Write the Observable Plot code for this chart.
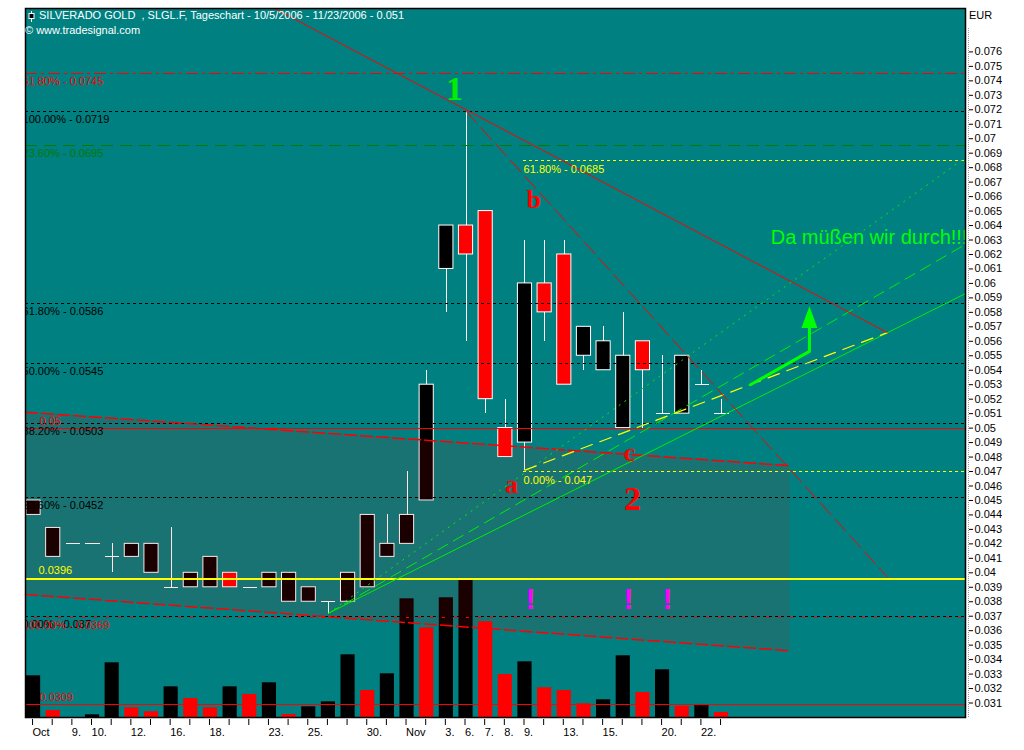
<!DOCTYPE html>
<html><head><meta charset="utf-8">
<script src="https://cdn.jsdelivr.net/npm/d3@7"></script>
<script src="https://cdn.jsdelivr.net/npm/@observablehq/plot@0.6"></script>
<style>
body{margin:0;background:#fff;font-family:"Liberation Sans",Arial,sans-serif;}
#wrap{position:relative;width:1024px;height:750px;overflow:hidden;}
#wrap svg.plt{position:absolute;left:0;top:0;}
.hdr{position:absolute;font-size:11px;white-space:pre;line-height:13px;font-family:"Liberation Sans",Arial,sans-serif;}
</style></head><body><div id="wrap"></div>
<script>
// ---- data ----
const dates = ["2006-10-05","2006-10-06","2006-10-09","2006-10-10","2006-10-11","2006-10-12","2006-10-13","2006-10-16","2006-10-17","2006-10-18","2006-10-19","2006-10-20","2006-10-23","2006-10-24","2006-10-25","2006-10-26","2006-10-27","2006-10-30","2006-10-31","2006-11-01","2006-11-02","2006-11-03","2006-11-06","2006-11-07","2006-11-08","2006-11-09","2006-11-10","2006-11-13","2006-11-14","2006-11-15","2006-11-16","2006-11-17","2006-11-20","2006-11-21","2006-11-22","2006-11-23"];
const dayLabels = ["Oct","","9.","10.","","12.","","16.","","18.","","","23.","","25.","","","30.","","Nov","","3.","6.","7.","8.","9.","","13.","","15.","","","20.","","22.",""];
const openP  = [0.0440,0.0411,0.0420,0.0420,0.0411,0.0411,0.0400,0.0390,0.0390,0.0390,0.0400,0.0390,0.0390,0.0380,0.0380,0.0380,0.0380,0.0390,0.0411,0.0420,0.0450,0.0610,0.0640,0.0650,0.0500,0.0490,0.0600,0.0620,0.0550,0.0540,0.0500,0.0560,0.0510,0.0510,0.0530,0.0510];
const highP  = [0.0450,0.0431,0.0420,0.0420,0.0420,0.0420,0.0420,0.0431,0.0400,0.0411,0.0400,0.0390,0.0400,0.0400,0.0390,0.0380,0.0400,0.0440,0.0440,0.0470,0.0540,0.0640,0.0719,0.0650,0.0520,0.0630,0.0630,0.0630,0.0570,0.0570,0.0580,0.0560,0.0550,0.0550,0.0540,0.0520];
const lowP   = [0.0440,0.0411,0.0420,0.0420,0.0400,0.0411,0.0400,0.0390,0.0390,0.0390,0.0390,0.0390,0.0390,0.0380,0.0380,0.0371,0.0380,0.0390,0.0411,0.0420,0.0450,0.0580,0.0560,0.0510,0.0480,0.0471,0.0560,0.0530,0.0540,0.0540,0.0500,0.0500,0.0510,0.0510,0.0530,0.0510];
const closeP = [0.0450,0.0431,0.0420,0.0420,0.0411,0.0420,0.0420,0.0390,0.0400,0.0411,0.0390,0.0390,0.0400,0.0400,0.0390,0.0380,0.0400,0.0440,0.0420,0.0440,0.0530,0.0640,0.0620,0.0520,0.0480,0.0600,0.0580,0.0530,0.0570,0.0560,0.0550,0.0540,0.0510,0.0550,0.0530,0.0510];
const volume = [117600,19700,0,7600,154300,27400,16100,86600,53600,27400,86600,64900,97900,8500,30200,44300,176900,76200,123300,334800,253000,337700,392100,270000,121300,157100,83800,76200,38600,49900,174100,70500,134600,31000,36700,14100];
const volUp  = [1,0,1,1,1,0,0,1,0,0,1,0,1,0,1,1,1,0,1,1,0,1,1,0,0,1,0,0,0,1,1,0,1,0,1,0];
const priceTicks = [0.031,0.032,0.033,0.034,0.035,0.036,0.037,0.038,0.039,0.040,0.041,0.042,0.043,0.044,0.045,0.046,0.047,0.048,0.049,0.050,0.051,0.052,0.053,0.054,0.055,0.056,0.057,0.058,0.059,0.060,0.061,0.062,0.063,0.064,0.065,0.066,0.067,0.068,0.069,0.070,0.071,0.072,0.073,0.074,0.075,0.076];
const fibLevels = [0.0719,0.0586,0.0545,0.0503,0.0452,0.0370];
const fibLabels = ["100.00% - 0.0719","61.80% - 0.0586","50.00% - 0.0545","38.20% - 0.0503","23.60% - 0.0452","0.00% - 0.037"];
const channelX = [-0.41, 38.5];
const channelTop = [0.0511, 0.0474];
const channelBottom = [0.0385, 0.0346];
const fanStart = {x: 15, y: 0.0372};
const fanEnds = [0.0687, 0.0627, 0.0593];
const trendTop = [{x:12.26,y:0.0790},{x:43.44,y:0.0566}];
const trendSteep = [{x:22,y:0.0719},{x:43.44,y:0.0397}];
const trendYellow = [{x:25,y:0.0471},{x:43.44,y:0.0566}];
const arrowPath = [{x:36.47,y:0.0530},{x:39.47,y:0.0553},{x:39.47,y:0.0570}];
const arrowHead = [{x:39.47,y:0.05767}];
const letterNotes = [{t:"b",x:25.44,y:0.06576},{t:"a",x:24.32,y:0.04606},{t:"c",x:30.32,y:0.04827}];
const bangNotes = [{x:25.28,y:0.03817},{x:30.27,y:0.03817},{x:32.25,y:0.03817}];

// ---- layout constants ----
const W = 1024, H = 750;
const M = {marginTop: 8, marginBottom: 33, marginLeft: 25, marginRight: 59};
const xDomain = [-0.41, 47.41];
const yDomain = [0.0300, 0.0790];
const hw = 0.36;

const candles = dates.map((d, i) => ({i, d, o: openP[i], h: highP[i], l: lowP[i], c: closeP[i]}));
const vols = volume.map((v, i) => ({i, v, up: volUp[i]}));
const bodies = candles.filter(d => d.o !== d.c);
const dojis = candles.filter(d => d.o === d.c);
const channel = channelX.map((x, k) => ({x, top: channelTop[k], bot: channelBottom[k]}));

const tallTriangle = {draw(ctx, size) { const r = Math.sqrt(size / Math.PI); ctx.moveTo(0, -1.35*r); ctx.lineTo(r, 1.35*r); ctx.lineTo(-r, 1.35*r); ctx.closePath(); }};

const volPlot = Plot.plot({
  width: W, height: H, ...M,
  x: {domain: xDomain, axis: null},
  y: {domain: [0, 2000000], axis: null},
  style: {background: "transparent"},
  marks: [
    Plot.frame({fill: "#008080", stroke: null}),
    Plot.rect(vols, {x1: d => d.i - hw, x2: d => d.i + hw, y1: 0, y2: "v", fill: d => d.up ? "#000000" : "#ff0000"})
  ]
});

const green = "#00ee00";
const crisp = {shapeRendering: "crispEdges"};
const pricePlot = Plot.plot({
  width: W, height: H, ...M,
  x: {domain: xDomain},
  y: {domain: yDomain},
  style: {background: "transparent", fontFamily: "'Liberation Sans', Arial, sans-serif", fontSize: "11px", color: "#000"},
  marks: [
    Plot.ruleX(candles, {x: "i", y1: "l", y2: "h", stroke: "#fff", ...crisp}),
    Plot.rect(bodies, {x1: d => d.i - hw, x2: d => d.i + hw, y1: "o", y2: "c", fill: d => d.c < d.o ? "#ff0000" : "#000000", stroke: "#fff", strokeWidth: 1}),
    Plot.link(dojis, {x1: d => d.i - hw, x2: d => d.i + hw, y1: "o", y2: "o", stroke: "#fff", ...crisp}),
    Plot.areaY(channel, {x: "x", y1: "bot", y2: "top", fill: "#ff0000", fillOpacity: 0.1, curve: "linear"}),
    Plot.ruleY(fibLevels, {stroke: "#000", strokeDasharray: "3,3", ...crisp}),
    Plot.ruleY([0.0369], {stroke: "#ff0000", strokeDasharray: "3,9", strokeDashoffset: 3, ...crisp}),
    Plot.ruleY([0.0745], {stroke: "#ff0000", strokeDasharray: "12,4,3,4", ...crisp}),
    Plot.ruleY([0.0695], {stroke: "#007a00", strokeDasharray: "12,7", ...crisp}),
    Plot.ruleY([0.0685, 0.047], {x1: 24.93, x2: xDomain[1], stroke: "#ffff00", strokeDasharray: "3,3", ...crisp}),
    Plot.ruleY([0.05, 0.0309], {stroke: "#ff0000", ...crisp}),
    Plot.ruleY([0.0396], {stroke: "#ffff00", strokeWidth: 2, ...crisp}),
    Plot.line(channel, {x: "x", y: "top", stroke: "#ff0000", strokeWidth: 1.5, strokeDasharray: "12,4"}),
    Plot.line(channel, {x: "x", y: "bot", stroke: "#ff0000", strokeWidth: 1.5, strokeDasharray: "12,4"}),
    Plot.link([fanEnds[0]], {x1: fanStart.x, y1: fanStart.y, x2: xDomain[1], y2: d => d, stroke: green, strokeDasharray: "2,5"}),
    Plot.link([fanEnds[1]], {x1: fanStart.x, y1: fanStart.y, x2: xDomain[1], y2: d => d, stroke: green, strokeDasharray: "12,6"}),
    Plot.link([fanEnds[2]], {x1: fanStart.x, y1: fanStart.y, x2: xDomain[1], y2: d => d, stroke: green}),
    Plot.line(trendYellow, {x: "x", y: "y", stroke: "#ffff00", strokeWidth: 1.2, strokeDasharray: "12,8"}),
    Plot.line(trendTop, {x: "x", y: "y", stroke: "#ff0000", strokeWidth: 1, clip: true}),
    Plot.line(trendSteep, {x: "x", y: "y", stroke: "#ff0000", strokeWidth: 1, strokeDasharray: "16,6"}),
    Plot.line(arrowPath, {x: "x", y: "y", stroke: "#00ff00", strokeWidth: 3}),
    Plot.dot(arrowHead, {x: "x", y: "y", r: 8, symbol: tallTriangle, fill: "#00ff00", stroke: null}),
    // labels
    Plot.text(fibLevels, {x: -0.56, y: d => d, text: (d, k) => fibLabels[k], textAnchor: "start", dy: 8, fill: "#000", clip: true}),
    Plot.text([0.0369], {x: -0.56, y: d => d, text: ["100.00% - 0.0369"], textAnchor: "start", dy: 8, fill: "#ff0000", clip: true}),
    Plot.text([0.0745], {x: -0.56, y: d => d, text: ["61.80% - 0.0745"], textAnchor: "start", dy: 8, fill: "#ff0000", clip: true}),
    Plot.text([0.0695], {x: -0.56, y: d => d, text: ["23.60% - 0.0695"], textAnchor: "start", dy: 8, fill: "#007a00", clip: true}),
    Plot.text([0.0685, 0.047], {x: 24.93, y: d => d, text: ["61.80% - 0.0685", "0.00% - 0.047"], textAnchor: "start", dy: 9, fill: "#ffff00"}),
    Plot.text([0.0396], {x: 0.25, y: d => d, text: ["0.0396"], textAnchor: "start", dy: -8, fill: "#ffff00"}),
    Plot.text([0.05, 0.0309], {x: 0.3, y: d => d, text: ["0.05", "0.0309"], textAnchor: "start", dy: -7, fill: "#ff0000"}),
    Plot.text(["1"], {x: 21.42, y: 0.07344, text: d => d, fill: "#00ee00", fontFamily: "'Liberation Serif', serif", fontWeight: "bold", fontSize: 34}),
    Plot.text(["2"], {x: 30.47, y: 0.04509, text: d => d, fill: "#ff0000", fontFamily: "'Liberation Serif', serif", fontWeight: "bold", fontSize: 34}),
    Plot.text(letterNotes, {x: "x", y: "y", text: "t", fill: "#ff0000", fontFamily: "'Liberation Serif', serif", fontWeight: "bold", fontSize: 26}),
    Plot.text(bangNotes, {x: "x", y: "y", text: () => "!", fill: "#ff00ff", fontFamily: "'Liberation Sans', Arial, sans-serif", fontWeight: "bold", fontSize: 30}),
    Plot.text(["Da müßen wir durch!!!"], {x: 37.5, y: 0.06314, text: d => d, textAnchor: "start", fill: "#00ff00", fontSize: 20}),
    // axes
    Plot.ruleX([0], {x: () => xDomain[1], dx: 3, insetTop: 20, stroke: "#999", strokeDasharray: "1,1"}),
    Plot.axisY({anchor: "right", ticks: priceTicks, tickSize: 4, dx: 3, tickPadding: 2, label: null, tickFormat: d => String(Math.round(d * 1000) / 1000), fontSize: 11}),
    Plot.axisX({anchor: "bottom", ticks: d3.range(dates.length), tickSize: 6, dy: 2, tickPadding: 3, label: null, textAnchor: "start", dx: -1, tickFormat: i => dayLabels[i], fontSize: 11}),
    Plot.frame({stroke: "#000", strokeWidth: 1.5})
  ]
});

const wrap = document.getElementById("wrap");
volPlot.classList.add("plt");
pricePlot.classList.add("plt");
wrap.appendChild(volPlot);
wrap.appendChild(pricePlot);

function addHdr(text, left, top, color) {
  const d = document.createElement("div");
  d.className = "hdr"; d.textContent = text;
  d.style.left = left + "px"; d.style.top = top + "px"; d.style.color = color;
  wrap.appendChild(d);
}
addHdr("SILVERADO GOLD  , SLGL.F, Tageschart - 10/5/2006 - 11/23/2006 - 0.051", 39, 9, "#fff");
addHdr("\u00A9 www.tradesignal.com", 25, 24, "#fff");
addHdr("EUR", 969, 9, "#000");
const icon = document.createElementNS("http://www.w3.org/2000/svg", "svg");
icon.setAttribute("width", 8); icon.setAttribute("height", 11);
icon.style.position = "absolute"; icon.style.left = "28px"; icon.style.top = "11px";
icon.innerHTML = '<line x1="3.5" y1="0" x2="3.5" y2="11" stroke="#fff"/><rect x="1" y="2.5" width="5" height="5" fill="#000" stroke="#fff"/>';
wrap.appendChild(icon);
</script>
</body></html>
